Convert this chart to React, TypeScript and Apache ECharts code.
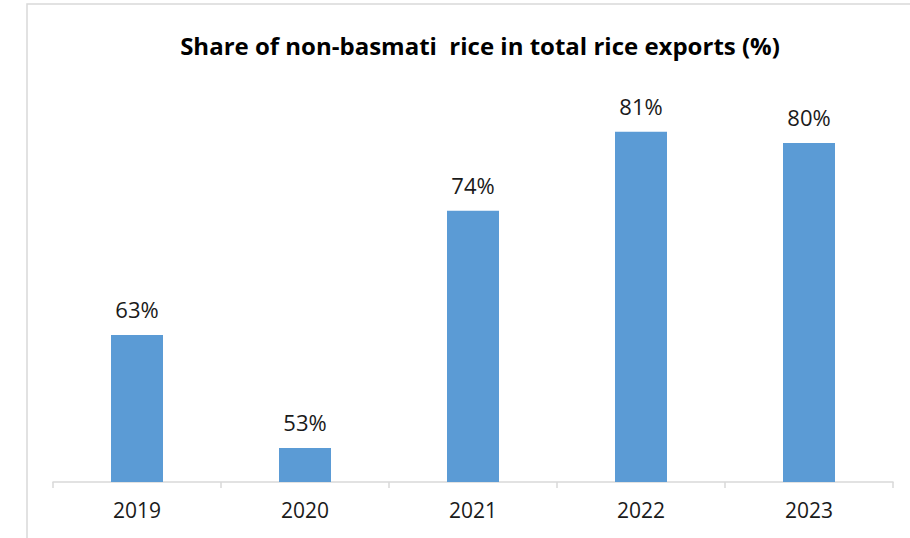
import React, { useEffect, useRef } from "react";
import * as echarts from "echarts";

const title = "Share of non-basmati  rice in total rice exports (%)";
const years = ["2019", "2020", "2021", "2022", "2023"];
const shares = [63, 53, 74, 81, 80];

export default function App() {
  const ref = useRef<HTMLDivElement>(null);
  useEffect(() => {
    document.body.style.margin = "0";
    const chart = echarts.init(ref.current!, null, { renderer: "svg" });
    chart.setOption({
      animation: false,
      backgroundColor: "#ffffff",
      textStyle: { fontFamily: "Open Sans" },
      title: {
        text: title,
        left: 475,
        top: 28,
        textAlign: "center",
        textStyle: { fontFamily: "Open Sans", fontWeight: "bold", fontSize: 24, color: "#000000" },
      },
      graphic: [
        {
          type: "rect",
          shape: { x: 27, y: 4, width: 1000, height: 1000 },
          style: { fill: "none", stroke: "#d9d9d9", lineWidth: 1.5 },
          silent: true,
        },
      ],
      grid: { left: 53, right: 17, top: 30, bottom: 56 },
      xAxis: {
        type: "category",
        data: years,
        axisLine: { lineStyle: { color: "#d9d9d9", width: 1.5 } },
        axisTick: { show: true, length: 6, lineStyle: { color: "#d9d9d9", width: 1.5 } },
        axisLabel: { color: "#1a1a1a", fontSize: 21, fontFamily: "Open Sans", margin: 17 },
      },
      yAxis: {
        type: "value",
        min: 50,
        max: 90,
        show: false,
        splitLine: { show: false },
      },
      series: [
        {
          type: "bar",
          data: shares,
          barWidth: 52,
          itemStyle: { color: "#5b9bd5" },
          label: {
            show: true,
            position: "top",
            distance: 15,
            formatter: "{c}%",
            fontSize: 22,
            fontFamily: "Open Sans",
            color: "#1a1a1a",
          },
        },
      ],
    });
    return () => chart.dispose();
  }, []);
  return <div ref={ref} style={{ width: 910, height: 538 }} />;
}
